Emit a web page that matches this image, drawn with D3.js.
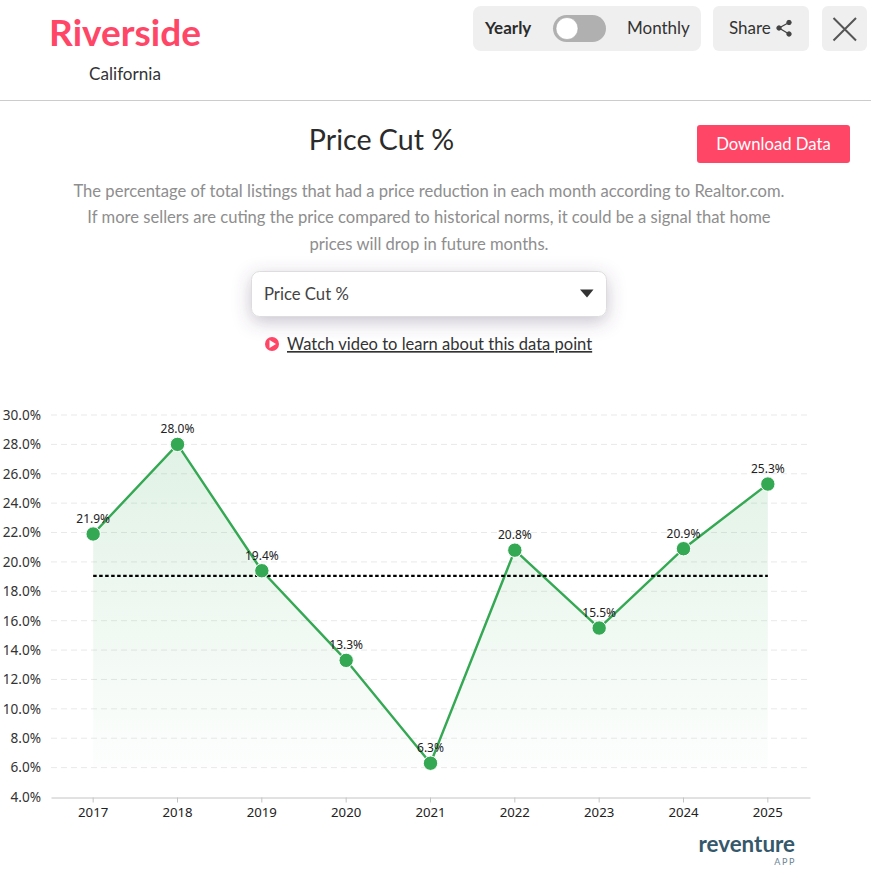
<!DOCTYPE html>
<html><head><meta charset="utf-8">
<script src="https://cdn.jsdelivr.net/npm/d3@7"></script>
<style>
html,body{margin:0;padding:0;background:#fff;overflow:hidden}
svg{display:block}
text{font-family:Lato,sans-serif}
.c text,text.c{font-family:"Noto Sans",sans-serif}
</style></head><body>
<svg id="s" width="871" height="869" viewBox="0 0 871 869"></svg>
<script>
const years=["2017","2018","2019","2020","2021","2022","2023","2024","2025"];
const values=[21.9,28.0,19.4,13.3,6.3,20.8,15.5,20.9,25.3];
const average=19.05;
const yTicks=[4,6,8,10,12,14,16,18,20,22,24,26,28,30];
const descLines=["The percentage of total listings that had a price reduction in each month according to Realtor.com.","If more sellers are cuting the price compared to historical norms, it could be a signal that home","prices will drop in future months."];

const svg=d3.select("#s");
const defs=svg.append("defs");
const g=defs.append("linearGradient").attr("id","ag").attr("x1",0).attr("x2",0).attr("y1",0).attr("y2",1);
g.append("stop").attr("offset",0).attr("stop-color","#34a853").attr("stop-opacity",.15);
g.append("stop").attr("offset",1).attr("stop-color","#34a853").attr("stop-opacity",.012);
const f=defs.append("filter").attr("id","sh").attr("x","-20%").attr("y","-60%").attr("width","140%").attr("height","240%");
f.append("feDropShadow").attr("dx",0).attr("dy",5).attr("stdDeviation",9).attr("flood-color","#5a4a6a").attr("flood-opacity",.32);

function txt(x,y,t,size,fill,anchor,weight){return svg.append("text").attr("x",x).attr("y",y).text(t).attr("font-size",size).attr("fill",fill).attr("text-anchor",anchor||"start").attr("font-weight",weight||400);}
function box(x,y,w,h,r,fill){return svg.append("rect").attr("x",x).attr("y",y).attr("width",w).attr("height",h).attr("rx",r).attr("fill",fill);}

// header
txt(125,46,"Riverside",37,"#ff4667","middle",700);
txt(125,80,"California",17.1,"#333","middle");
svg.append("line").attr("x1",0).attr("x2",871).attr("y1",100.5).attr("y2",100.5).attr("stroke","#ccc");
box(473,6,228,45,8,"#efefef");
txt(485,34,"Yearly",17,"#2b2b2b","start",700);
box(553,15,53,27,13.5,"#b0b0b0");
svg.append("circle").attr("cx",567).attr("cy",28.5).attr("r",11).attr("fill","#fff").attr("stroke","#999").attr("stroke-opacity",.5);
txt(627,34,"Monthly",17,"#333");
box(713,6,96,45,6,"#efefef");
txt(729,34,"Share",17,"#333");
const sh=svg.append("g").attr("stroke","#444").attr("fill","#444");
[[779,28],[789,22.5],[789,34]].forEach(p=>sh.append("circle").attr("cx",p[0]).attr("cy",p[1]).attr("r",2.2));
sh.append("polyline").attr("points","789,22.5 779,28 789,34").attr("fill","none").attr("stroke-width",1.3);
box(822,6,45,45,6,"#efefef");
svg.append("path").attr("d","M833.5,18 L856,40.5 M856,18 L833.5,40.5").attr("stroke","#555").attr("stroke-width",2).attr("fill","none");

// title block
txt(381.5,150,"Price Cut %",28.6,"#2b2b2b","middle");
box(697,125,153,38,3,"#ff4667");
txt(773.5,150,"Download Data",16.7,"#fff","middle");
descLines.forEach((l,i)=>txt(429,196.5+i*26.7,l,16.6,"#8e8e8e","middle"));

// dropdown
box(251.5,271.5,355,45,8,"#fff").attr("stroke","#ddd").attr("filter","url(#sh)");
txt(264,300,"Price Cut %",16.7,"#444");
svg.append("path").attr("d","M580,289.5 L593.5,289.5 L587,297.5 Z").attr("fill","#333");
svg.append("circle").attr("cx",272).attr("cy",344).attr("r",7).attr("fill","#ff4667");
svg.append("path").attr("d","M269.5,340 L276,344 L269.5,348 Z").attr("fill","#fff");
txt(287,350,"Watch video to learn about this data point",16.55,"#333").attr("text-decoration","underline");

// chart
const x=d3.scaleBand().domain(years).range([51,810]);
const y=d3.scaleLinear().domain([4,30]).range([797,415]);
const cx=d=>x(d)+x.bandwidth()/2;
const chart=svg.append("g").attr("class","c");
chart.append("g").selectAll("line").data(yTicks.slice(1)).join("line")
 .attr("x1",51).attr("x2",810).attr("y1",d=>y(d)).attr("y2",d=>y(d))
 .attr("stroke","#e9e9e9").attr("stroke-dasharray","6 4");
const pts=years.map((d,i)=>({year:d,v:values[i]}));
chart.append("path").datum(pts)
 .attr("d",d3.area().x(d=>cx(d.year)).y0(y(6)).y1(d=>y(d.v)))
 .attr("fill","url(#ag)");
const yAxis=d3.axisLeft(y).tickValues(yTicks).tickFormat(d=>d.toFixed(1)+"%").tickSize(0).tickPadding(10);
const ya=chart.append("g").attr("transform","translate(51,0)").call(yAxis);
ya.select(".domain").remove();
ya.selectAll("text").attr("font-size",13.6).attr("fill","#333");
const xAxis=d3.axisBottom(x).tickSize(5).tickPadding(5).tickSizeOuter(0);
const xa=chart.append("g").attr("transform","translate(0,797.5)").call(xAxis);
xa.select(".domain").attr("stroke","#c4c4c4").attr("stroke-width",1);
xa.selectAll("line").attr("stroke","#c4c4c4");
xa.selectAll("text").attr("font-size",13.2).attr("fill","#222");
chart.append("path").datum(pts)
 .attr("d",d3.line().x(d=>cx(d.year)).y(d=>y(d.v)))
 .attr("fill","none").attr("stroke","#34a853").attr("stroke-width",2.4);
chart.append("line").attr("x1",cx(years[0])).attr("x2",cx(years[8])).attr("y1",y(average)).attr("y2",y(average))
 .attr("stroke","#000").attr("stroke-width",2.2).attr("stroke-dasharray","3.5 2.5");
chart.append("g").selectAll("circle").data(pts).join("circle")
 .attr("cx",d=>cx(d.year)).attr("cy",d=>y(d.v)).attr("r",7.2).attr("fill","#34a853").attr("stroke","#fff").attr("stroke-width",1);
chart.append("g").selectAll("text").data(pts).join("text")
 .attr("x",d=>cx(d.year)).attr("y",d=>y(d.v)-11).attr("text-anchor","middle")
 .attr("font-size",12).attr("fill","#222").text(d=>d.v.toFixed(1)+"%");

// logo
txt(795,851.5,"reventure",22.4,"#35586b","end",700);
txt(796,864.5,"APP",9,"#6a8494","end").attr("letter-spacing",1.6);
</script></body></html>
